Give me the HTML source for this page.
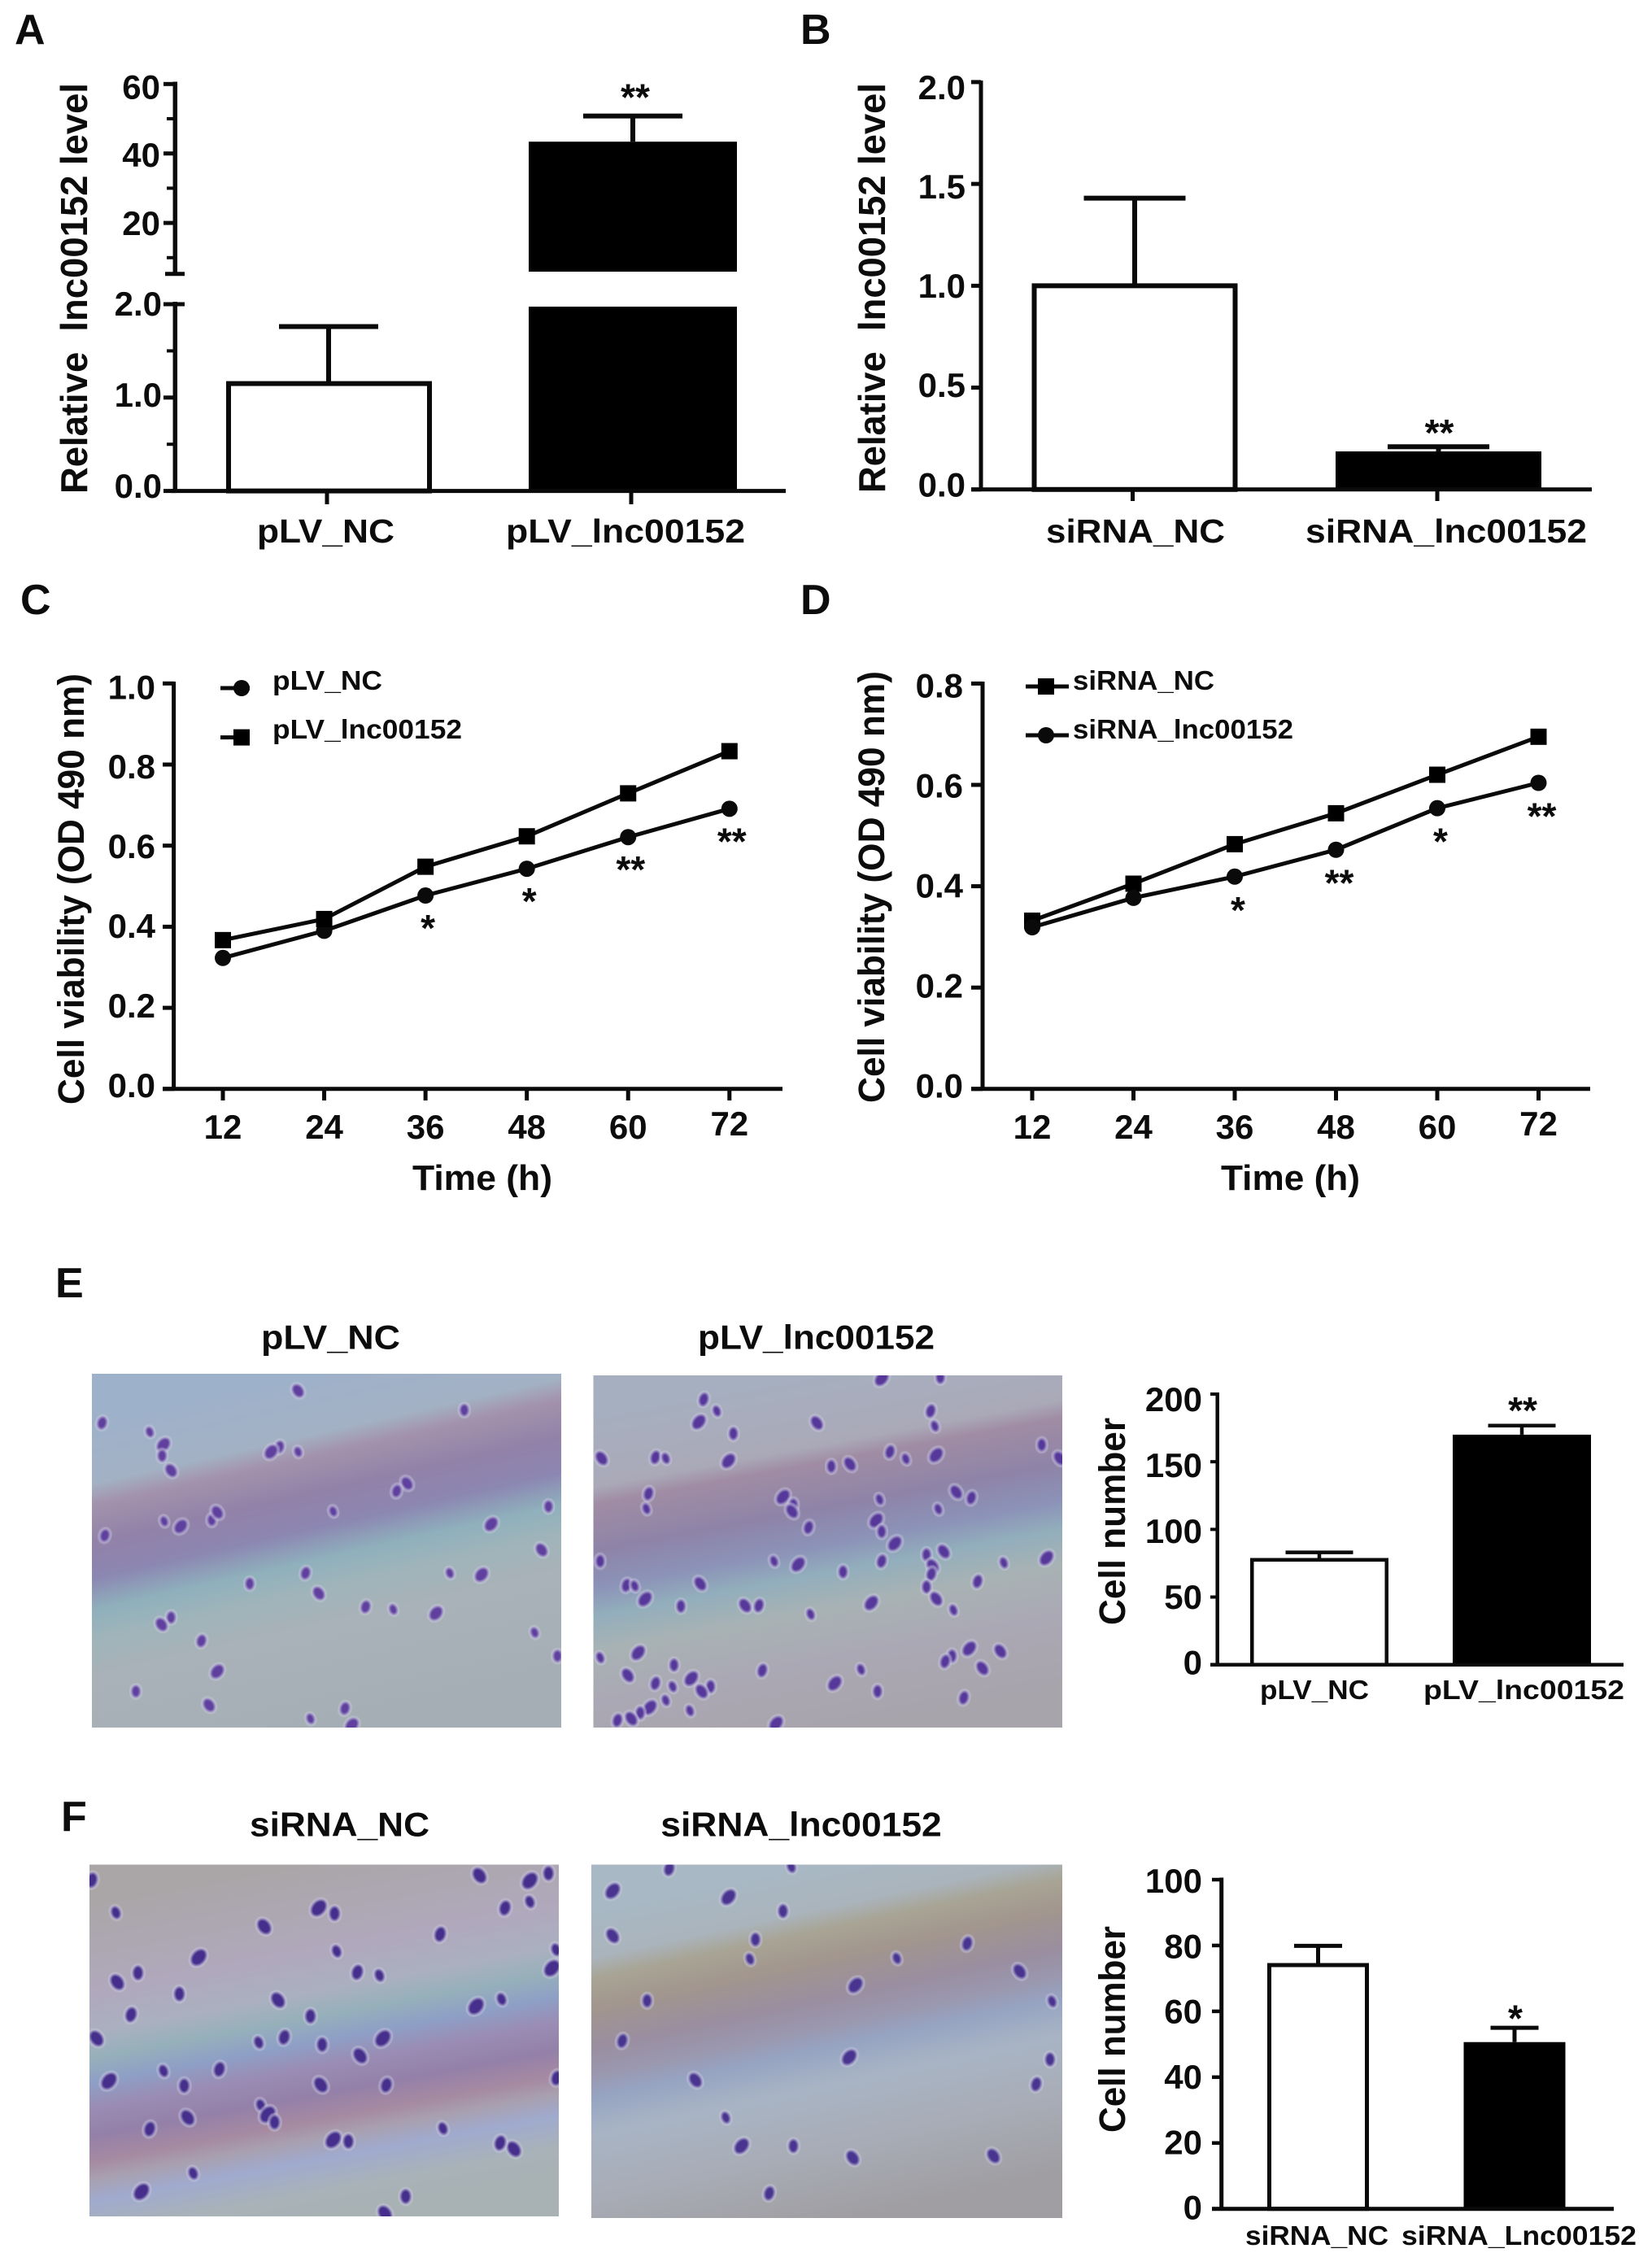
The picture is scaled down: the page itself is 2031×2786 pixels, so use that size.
<!DOCTYPE html>
<html lang="en">
<head>
<meta charset="utf-8">
<title>lnc00152 expression, viability and cell number panels</title>
<style>
html,body{margin:0;padding:0;background:#fff;}
svg{display:block;}
text{font-family:"Liberation Sans",Arial,sans-serif;font-weight:bold;fill:#0c0c0c;}
</style>
</head>
<body>
<svg id="figure" xmlns="http://www.w3.org/2000/svg" width="2031" height="2786" viewBox="0 0 2031 2786">
<defs>
<linearGradient id="grad-e1" x1="0" y1="0" x2="0" y2="1">
<stop offset=".167" stop-color="#9eb1ca"/><stop offset=".28" stop-color="#a3b1c4"/><stop offset=".32" stop-color="#a392ac"/><stop offset=".387" stop-color="#9282a8"/><stop offset=".453" stop-color="#8c86b2"/><stop offset=".513" stop-color="#8fb0bc"/><stop offset=".567" stop-color="#9fb4ba"/><stop offset=".633" stop-color="#a8b2b8"/><stop offset=".833" stop-color="#a4aeb4"/>
</linearGradient>
<linearGradient id="grad-e2" x1="0" y1="0" x2="0" y2="1">
<stop offset=".167" stop-color="#a6afbf"/><stop offset=".3" stop-color="#aaa9b8"/><stop offset=".333" stop-color="#a08ca4"/><stop offset=".42" stop-color="#8e84a8"/><stop offset=".487" stop-color="#8c92b8"/><stop offset=".54" stop-color="#92aebc"/><stop offset=".607" stop-color="#a8b2b4"/><stop offset=".7" stop-color="#aaa8b4"/><stop offset=".833" stop-color="#a8a4ac"/>
</linearGradient>
<linearGradient id="grad-f1" x1="0" y1="0" x2="0" y2="1">
<stop offset=".167" stop-color="#aaa6a8"/><stop offset=".333" stop-color="#b0a8bc"/><stop offset=".407" stop-color="#aab0c0"/><stop offset=".453" stop-color="#96b0ba"/><stop offset=".5" stop-color="#8e9fc6"/><stop offset=".547" stop-color="#9a8cb4"/><stop offset=".6" stop-color="#9480a8"/><stop offset=".647" stop-color="#a68aa2"/><stop offset=".68" stop-color="#a8a0b0"/><stop offset=".72" stop-color="#a0aace"/><stop offset=".78" stop-color="#a8b2b8"/><stop offset=".833" stop-color="#a8b2b4"/>
</linearGradient>
<linearGradient id="grad-f2" x1="0" y1="0" x2="0" y2="1">
<stop offset=".167" stop-color="#a8b8c4"/><stop offset=".253" stop-color="#aab4bc"/><stop offset=".293" stop-color="#a8a494"/><stop offset=".347" stop-color="#a2968e"/><stop offset=".42" stop-color="#9a8ea0"/><stop offset=".473" stop-color="#9a98b0"/><stop offset=".513" stop-color="#96a4c2"/><stop offset=".58" stop-color="#a8b4c4"/><stop offset=".7" stop-color="#a8acb6"/><stop offset=".833" stop-color="#a09ea2"/>
</linearGradient>
<clipPath id="clip-e1"><rect x="113" y="1689" width="577" height="435"/></clipPath>
<clipPath id="clip-e2"><rect x="729.5" y="1691" width="576.5" height="433"/></clipPath>
<clipPath id="clip-f1"><rect x="110" y="2292.5" width="577" height="432.5"/></clipPath>
<clipPath id="clip-f2"><rect x="727" y="2292.5" width="579" height="434.5"/></clipPath>
<filter id="soft" x="-15%" y="-15%" width="130%" height="130%"><feGaussianBlur stdDeviation="0.9"/></filter>
</defs>

<rect x="0" y="0" width="2031" height="2786" fill="#ffffff"/>

<g id="photo-e1" clip-path="url(#clip-e1)">
<rect x="-31" y="1580" width="866" height="653" fill="url(#grad-e1)" transform="rotate(-12.7 401.5 1906.5)"/>
</g>
<g id="photo-e2" clip-path="url(#clip-e2)">
<rect x="585" y="1582" width="866" height="650" fill="url(#grad-e2)" transform="rotate(-10.5 1018 1907)"/>
</g>
<g id="photo-f1" clip-path="url(#clip-f1)">
<rect x="-34" y="2184" width="866" height="649" fill="url(#grad-f1)" transform="rotate(-10.4 398.5 2508.7)"/>
</g>
<g id="photo-f2" clip-path="url(#clip-f2)">
<rect x="582" y="2184" width="869" height="652" fill="url(#grad-f2)" transform="rotate(-12 1016.5 2510)"/>
</g>

<g id="chart-layer"></g>
</svg>

<script>
// Cell spots in the photographs, given in crop-reference units (not chart data).
const cellsE1 = [[148,530],[217,558],[237,598],[235,632],[248,678],[405,605],[432,620],[393,620],[673,490],[590,718],[575,742],[238,836],[262,852],[307,832],[315,808],[152,880],[483,805],[712,845],[795,790],[785,925],[443,997],[652,997],[698,1002],[362,1030],[462,1060],[530,1102],[570,1110],[632,1122],[248,1135],[234,1157],[292,1208],[775,1182],[315,1303],[197,1365],[303,1408],[500,1418],[450,1450],[510,1470],[808,1255],[432,430]];
const cellsE2 = [[1020,457],[1039,493],[1013,527],[1063,563],[1184,530],[1349,493],[1355,540],[1278,392],[1363,388],[872,640],[950,637],[965,640],[1056,648],[1205,665],[1232,658],[1290,620],[1313,642],[1357,630],[1510,598],[1536,640],[940,750],[937,797],[1135,760],[1150,785],[1148,805],[1172,855],[1275,768],[1270,833],[1278,868],[1386,745],[1408,763],[1360,798],[1297,905],[1343,940],[1368,930],[1278,960],[1122,960],[1157,970],[1222,993],[1352,975],[1350,1000],[1455,965],[1517,950],[870,960],[1015,1030],[908,1035],[920,1037],[935,1078],[987,1100],[1080,1098],[1100,1098],[1175,1125],[1263,1090],[1343,1040],[1357,1077],[1417,1023],[1382,1112],[1405,1232],[1380,1255],[1450,1240],[1370,1272],[870,1260],[925,1245],[977,1283],[910,1315],[950,1340],[975,1350],[1002,1325],[1030,1350],[1017,1365],[1105,1300],[1248,1297],[1210,1340],[1272,1365],[1424,1293],[1397,1385],[965,1393],[942,1415],[928,1432],[915,1450],[895,1455],[1000,1425],[1125,1465]];
const cellsF1 = [[133,320],[168,425],[462,410],[485,428],[383,470],[732,410],[768,390],[768,322],[795,298],[695,305],[638,495],[488,550],[288,570],[200,620],[170,650],[518,618],[550,628],[800,605],[260,688],[403,708],[190,755],[727,705],[690,728],[450,760],[140,832],[412,828],[375,845],[555,832],[467,852],[522,888],[318,932],[237,937],[158,970],[267,985],[465,982],[560,983],[378,1048],[388,1078],[398,1103],[272,1088],[217,1125],[642,1123],[483,1160],[505,1165],[745,1190],[725,1170],[280,1268],[205,1328],[588,1343],[558,1398],[807,960],[806,545]];
const cellsF2 = [[970,283],[1147,277],[1056,375],[1135,420],[888,500],[1402,525],[1300,573],[1240,660],[938,710],[1478,615],[902,840],[1525,712],[1231,893],[1522,900],[1008,967],[1502,980],[1052,1088],[1075,1180],[1150,1180],[1236,1218],[1115,1333],[1087,575],[888,355],[1095,512],[1440,1212]];
const cellSizeCycle = [1, 0.85, 1.2, 0.95, 1.1];
const cellTiltCycle = [15, -20, 40, 0, -35];

function drawCells(groupId, cells, cropTop, scaleY, fill, rx, ry) {
  const group = document.getElementById(groupId);
  cells.forEach(function (c, i) {
    const el = document.createElementNS('http://www.w3.org/2000/svg', 'ellipse');
    
    
    const cx = c[0] / 1.179;
    const cy = cropTop + c[1] / scaleY;
    const k = cellSizeCycle[i % cellSizeCycle.length];
    el.setAttribute('cx', cx);
    el.setAttribute('cy', cy);
    el.setAttribute('rx', rx * k);
    el.setAttribute('ry', ry * k);
    el.setAttribute('fill', fill);
    el.setAttribute('stroke', '#d8d8ec');
    el.setAttribute('stroke-width', 4);
    el.setAttribute('stroke-opacity', 0.45);
    el.setAttribute('filter', 'url(#soft)');
    el.setAttribute('transform', 'rotate(' + cellTiltCycle[i % cellTiltCycle.length] + ' ' + cx + ' ' + cy + ')');
    group.appendChild(el);
  });
}
drawCells('photo-e1', cellsE1, 1540, 2.53, '#5f3f9e', 6.5, 8.5);
drawCells('photo-e2', cellsE2, 1540, 2.53, '#56389a', 6.5, 9);
drawCells('photo-f1', cellsF1, 2190, 2.631, '#452d8c', 7.5, 10);
drawCells('photo-f2', cellsF2, 2190, 2.631, '#4a3590', 7, 9.5);
</script>

<script>
// ---- Panel A ----
const panelACategories = ['pLV_NC', 'pLV_lnc00152'];
const panelAValues = [1.15, 43.4];
const panelAErrorTops = [1.76, 50.8];
const panelAUpperTicks = [60, 40, 20];
const panelAUpperMinor = [50, 30, 10];
const panelALowerTicks = ['0.0', '1.0', '2.0'];
const panelALowerMinor = [0.5, 1.5];
const panelASignificance = ['', '**'];

// ---- Panel B ----
const panelBCategories = ['siRNA_NC', 'siRNA_lnc00152'];
const panelBValues = [1.0, 0.187];
const panelBErrorTops = [1.43, 0.21];
const panelBTicks = ['0.0', '0.5', '1.0', '1.5', '2.0'];
const panelBSignificance = ['', '**'];

// ---- Panel C ----
const panelCTimes = [12, 24, 36, 48, 60, 72];
const panelCControl = [0.323, 0.39, 0.477, 0.543, 0.621, 0.691];
const panelCTreated = [0.367, 0.419, 0.548, 0.623, 0.729, 0.833];
const panelCTicks = ['0.0', '0.2', '0.4', '0.6', '0.8', '1.0'];
const panelCSignificance = ['', '', '*', '*', '**', '**'];
const panelCLegend = ['pLV_NC', 'pLV_lnc00152'];

// ---- Panel D ----
const panelDTimes = [12, 24, 36, 48, 60, 72];
const panelDControl = [0.332, 0.405, 0.483, 0.544, 0.62, 0.695];
const panelDTreated = [0.319, 0.377, 0.419, 0.472, 0.554, 0.604];
const panelDTicks = ['0.0', '0.2', '0.4', '0.6', '0.8'];
const panelDSignificance = ['', '', '*', '**', '*', '**'];
const panelDLegend = ['siRNA_NC', 'siRNA_lnc00152'];

// ---- Panel E ----
const panelECategories = ['pLV_NC', 'pLV_lnc00152'];
const panelEValues = [77.5, 170];
const panelEErrorTops = [83, 176.7];
const panelETicks = ['0', '50', '100', '150', '200'];
const panelESignificance = ['', '**'];

// ---- Panel F ----
const panelFCategories = ['siRNA_NC', 'siRNA_Lnc00152'];
const panelFValues = [74.05, 50.65];
const panelFErrorTops = [79.9, 55];
const panelFTicks = ['0', '20', '40', '60', '80', '100'];
const panelFSignificance = ['', '*'];

const NS = 'http://www.w3.org/2000/svg';
const layer = document.getElementById('chart-layer');

function drawLine(x1, y1, x2, y2, w, name) {
  const el = document.createElementNS(NS, 'line');
  
  
  el.setAttribute('x1', x1);
  el.setAttribute('y1', y1);
  el.setAttribute('x2', x2);
  el.setAttribute('y2', y2);
  el.setAttribute('stroke', '#0a0a0a');
  el.setAttribute('stroke-width', w);
  layer.appendChild(el);
}

function drawRect(x, y, w, h, fill, sw, name) {
  const el = document.createElementNS(NS, 'rect');
  
  
  el.setAttribute('x', x);
  el.setAttribute('y', y);
  el.setAttribute('width', w);
  el.setAttribute('height', h);
  el.setAttribute('fill', fill);
  if (sw) {
    el.setAttribute('stroke', '#0a0a0a');
    el.setAttribute('stroke-width', sw);
  }
  layer.appendChild(el);
}

function drawCircle(cx, cy, r, name) {
  const el = document.createElementNS(NS, 'circle');
  
  
  el.setAttribute('cx', cx);
  el.setAttribute('cy', cy);
  el.setAttribute('r', r);
  el.setAttribute('fill', '#0a0a0a');
  layer.appendChild(el);
}

function drawPolyline(points, w, name) {
  const el = document.createElementNS(NS, 'polyline');
  
  
  el.setAttribute('points', points.map(function (p) { return p[0] + ',' + p[1]; }).join(' '));
  el.setAttribute('fill', 'none');
  el.setAttribute('stroke', '#0a0a0a');
  el.setAttribute('stroke-width', w);
  layer.appendChild(el);
}

function drawText(str, x, y, size, anchor, name, length, rotated) {
  const el = document.createElementNS(NS, 'text');
  
  
  el.setAttribute('x', x);
  el.setAttribute('y', y);
  el.setAttribute('font-size', size);
  el.setAttribute('text-anchor', anchor);
  if (length) {
    el.setAttribute('textLength', length);
    el.setAttribute('lengthAdjust', 'spacingAndGlyphs');
  }
  if (rotated) {
    el.setAttribute('transform', 'rotate(-90 ' + x + ' ' + y + ')');
  }
  el.textContent = str;
  layer.appendChild(el);
}

function drawStars(str, cx, cy, name) {
  if (str) {
    drawText(str, cx, cy + 26, 46, 'middle', name);
  }
}

// Y ticks with label baselines that drift slightly as in the source artwork.
function drawYTicks(ticks, yScale, axisX, tickLeft, labelRight, size, offTop, offBottom, w, prefix) {
  const values = ticks.map(Number);
  const max = Math.max.apply(null, values);
  const min = Math.min.apply(null, values);
  ticks.forEach(function (t) {
    const y = yScale(Number(t));
    drawLine(tickLeft, y, axisX, y, w, prefix + '-y-tick');
    const frac = (Number(t) - min) / (max - min);
    drawText(String(t), labelRight, y + offBottom + (offTop - offBottom) * frac, size, 'end', prefix + '-y-tick-label');
  });
}

function drawBars(p) {
  p.values.forEach(function (v, i) {
    const cx = p.x(i);
    const base = p.y(0);
    const top = p.y(v);
    const capY = p.y(p.errors[i]);
    drawLine(cx, capY, cx, top, p.stem, p.prefix + '-error-stem');
    drawLine(cx - p.cap / 2, capY, cx + p.cap / 2, capY, p.capW, p.prefix + '-error-cap');
    if (i === 0) {
      const s = p.stroke;
      drawRect(cx - p.width / 2 + s / 2, top, p.width - s, base - top, '#ffffff', s, p.prefix + '-bar-control');
    } else {
      drawRect(cx - p.width / 2, top, p.width, base - top, '#000000', 0, p.prefix + '-bar-treated');
    }
    drawStars(p.stars[i], cx + 1, capY - p.starGap, p.prefix + '-significance');
  });
}

function drawLineSeries(times, values, xScale, yScale, marker, name) {
  const pts = values.map(function (v, i) { return [xScale(times[i]), yScale(v)]; });
  drawPolyline(pts, 5, name + '-line');
  pts.forEach(function (p) {
    if (marker === 'circle') {
      drawCircle(p[0], p[1], 10, name + '-point');
    } else {
      drawRect(p[0] - 10, p[1] - 10, 20, 20, '#000000', 0, name + '-point');
    }
  });
}

// Panel letters
drawText('A', 18, 54, 52, 'start', 'panel-label-a');
drawText('B', 984, 54, 52, 'start', 'panel-label-b');
drawText('C', 25, 755, 52, 'start', 'panel-label-c');
drawText('D', 984, 755, 52, 'start', 'panel-label-d');
drawText('E', 68, 1595, 52, 'start', 'panel-label-e');
drawText('F', 75, 2251, 52, 'start', 'panel-label-f');

// Panel A: broken axis
const yAUpper = function (v) { return 103.3 + (60 - v) * 4.27; };
const yALower = function (v) { return 603.6 - v * 114.8; };
const xA = function (i) { return 404 + 374 * i; };
drawLine(215.3, 100.5, 215.3, 339, 5.5, 'panel-a-y-axis-upper');
drawLine(215.3, 371, 215.3, 606, 5.5, 'panel-a-y-axis-lower');
drawLine(203, 336.7, 227, 336.7, 5, 'panel-a-axis-break-upper');
drawLine(203, 374, 227, 374, 5, 'panel-a-axis-break-lower');
drawYTicks(panelAUpperTicks, yAUpper, 216, 201, 197, 42, 18, 15, 5, 'panel-a-upper');
panelAUpperMinor.forEach(function (v) {
  drawLine(205, yAUpper(v), 216, yAUpper(v), 4, 'panel-a-upper-minor-tick');
});
drawYTicks(panelALowerTicks, yALower, 216, 201, 199, 42, 14, 8.5, 5, 'panel-a-lower');
panelALowerMinor.forEach(function (v) {
  drawLine(205, yALower(v), 216, yALower(v), 4, 'panel-a-lower-minor-tick');
});
(function () {
  const cx0 = xA(0);
  const topWhite = yALower(panelAValues[0]);
  const capWhite = yALower(panelAErrorTops[0]);
  drawLine(cx0, capWhite, cx0, topWhite, 6, 'panel-a-error-stem');
  drawLine(cx0 - 61, capWhite, cx0 + 61, capWhite, 6, 'panel-a-error-cap');
  drawRect(cx0 - 123, topWhite, 247, 603.6 - topWhite, '#ffffff', 6, 'panel-a-bar-control');
  const cx1 = xA(1);
  const topBlack = yAUpper(panelAValues[1]);
  const capBlack = yAUpper(panelAErrorTops[1]);
  drawLine(cx1, capBlack, cx1, topBlack, 6, 'panel-a-error-stem');
  drawLine(cx1 - 61, capBlack, cx1 + 61, capBlack, 6, 'panel-a-error-cap');
  drawRect(cx1 - 128, topBlack, 256, 334 - topBlack, '#000000', 0, 'panel-a-bar-treated-upper');
  drawRect(cx1 - 128, 377, 256, 226.6, '#000000', 0, 'panel-a-bar-treated-lower');
  drawStars(panelASignificance[1], cx1 + 3, capBlack - 33, 'panel-a-significance');
})();
drawLine(210, 603.6, 966, 603.6, 5, 'panel-a-x-axis');
panelACategories.forEach(function (c, i) {
  const tx = 402 + 374 * i;
  drawLine(tx, 603.6, tx, 620, 5, 'panel-a-x-tick');
});
drawText(panelACategories[0], 400.5, 667, 41, 'middle', 'panel-a-x-label', 169);
drawText(panelACategories[1], 769, 667, 41, 'middle', 'panel-a-x-label', 294);
drawText('Relative\u00a0 lnc00152 level', 107, 607, 46, 'start', 'panel-a-y-title', 505, true);

// Panel B
const yB = function (v) { return 601.8 - v * 250.45; };
const xB = function (i) { return 1395 + 373.5 * i; };
drawLine(1206, 99, 1206, 604, 5, 'panel-b-y-axis');
drawYTicks(panelBTicks, yB, 1206, 1194, 1187, 42, 21, 8.5, 5, 'panel-b');
drawBars({ prefix: 'panel-b', values: panelBValues, errors: panelBErrorTops, x: xB, y: yB, width: 253, cap: 125, stem: 6, capW: 6, stroke: 6, stars: panelBSignificance, starGap: 27 });
drawLine(1194, 601.8, 1957, 601.8, 5, 'panel-b-x-axis');
panelBCategories.forEach(function (c, i) {
  const tx = 1392.5 + 374.5 * i;
  drawLine(tx, 601.8, tx, 616, 5, 'panel-b-x-tick');
});
drawText(panelBCategories[0], 1396, 667, 41, 'middle', 'panel-b-x-label', 220);
drawText(panelBCategories[1], 1778, 667, 41, 'middle', 'panel-b-x-label', 346);
drawText('Relative\u00a0 lnc00152 level', 1088, 606, 46, 'start', 'panel-b-y-title', 504, true);

// Panel C
const yC = function (v) { return 1338.8 - v * 498.5; };
const xC = function (t) { return 274 + (t - 12) * 10.38; };
drawLine(213.6, 838, 213.6, 1341, 5, 'panel-c-y-axis');
drawYTicks(panelCTicks, yC, 214, 200, 191, 42, 19, 10, 5, 'panel-c');
drawLine(200, 1338.8, 962, 1338.8, 5, 'panel-c-x-axis');
panelCTimes.forEach(function (t, i) {
  drawLine(xC(t), 1338.8, xC(t), 1353, 5, 'panel-c-x-tick');
  drawText(String(t), xC(t), i === panelCTimes.length - 1 ? 1396 : 1400, 42, 'middle', 'panel-c-x-tick-label');
});
drawLineSeries(panelCTimes, panelCControl, xC, yC, 'circle', 'panel-c-series-control');
drawLineSeries(panelCTimes, panelCTreated, xC, yC, 'square', 'panel-c-series-treated');
panelCSignificance.forEach(function (s, i) {
  drawStars(s, xC(panelCTimes[i]) + 3, yC(panelCControl[i]) + 30, 'panel-c-significance');
});
drawLine(271, 846, 307, 846, 5, 'panel-c-legend-line-control');
drawCircle(297, 846, 10, 'panel-c-legend-marker-control');
drawText(panelCLegend[0], 335, 848, 33, 'start', 'panel-c-legend-label', 135);
drawLine(271, 906.6, 307, 906.6, 5, 'panel-c-legend-line-treated');
drawRect(287, 896.6, 20, 20, '#000000', 0, 'panel-c-legend-marker-treated');
drawText(panelCLegend[1], 335, 908, 33, 'start', 'panel-c-legend-label', 233);
drawText('Time (h)', 593, 1463, 44, 'middle', 'panel-c-x-title', 172);
drawText('Cell viability (OD 490 nm)', 103, 1358, 45, 'start', 'panel-c-y-title', 530, true);

// Panel D
const yD = function (v) { return 1338.8 - v * 623; };
const xD = function (t) { return 1269 + (t - 12) * 10.375; };
drawLine(1208, 838, 1208, 1341, 5, 'panel-d-y-axis');
drawYTicks(panelDTicks, yD, 1208, 1194, 1184, 42, 17, 10.5, 5, 'panel-d');
drawLine(1194, 1338.8, 1955, 1338.8, 5, 'panel-d-x-axis');
panelDTimes.forEach(function (t, i) {
  drawLine(xD(t), 1338.8, xD(t), 1353, 5, 'panel-d-x-tick');
  drawText(String(t), xD(t), i === panelDTimes.length - 1 ? 1396 : 1400, 42, 'middle', 'panel-d-x-tick-label');
});
drawLineSeries(panelDTimes, panelDControl, xD, yD, 'square', 'panel-d-series-control');
drawLineSeries(panelDTimes, panelDTreated, xD, yD, 'circle', 'panel-d-series-treated');
panelDSignificance.forEach(function (s, i) {
  drawStars(s, xD(panelDTimes[i]) + 4, yD(panelDTreated[i]) + 31, 'panel-d-significance');
});
drawLine(1261, 844, 1314, 844, 5, 'panel-d-legend-line-control');
drawRect(1276, 834, 20, 20, '#000000', 0, 'panel-d-legend-marker-control');
drawText(panelDLegend[0], 1319, 848, 33, 'start', 'panel-d-legend-label', 174);
drawLine(1261, 904, 1314, 904, 5, 'panel-d-legend-line-treated');
drawCircle(1286, 904, 10, 'panel-d-legend-marker-treated');
drawText(panelDLegend[1], 1319, 908, 33, 'start', 'panel-d-legend-label', 271);
drawText('Time (h)', 1586.5, 1463, 44, 'middle', 'panel-d-x-title', 171);
drawText('Cell viability (OD 490 nm)', 1087, 1356, 45, 'start', 'panel-d-y-title', 531, true);

// Micrograph titles
drawText('pLV_NC', 406.5, 1658.6, 42, 'middle', 'micrograph-title-plv-nc', 171);
drawText('pLV_lnc00152', 1003.5, 1658.6, 42, 'middle', 'micrograph-title-plv-lnc00152', 291);
drawText('siRNA_NC', 417.5, 2257.6, 42, 'middle', 'micrograph-title-sirna-nc', 221);
drawText('siRNA_lnc00152', 985, 2257.6, 42, 'middle', 'micrograph-title-sirna-lnc00152', 345.5);

// Panel E
const yE = function (v) { return 2046.7 - v * 1.6635; };
const xE = function (i) { return 1622 + 249 * i; };
drawLine(1496.7, 1712, 1496.7, 2049, 4.5, 'panel-e-y-axis');
drawYTicks(panelETicks, yE, 1497, 1488, 1478, 42, 21, 12, 4, 'panel-e');
drawBars({ prefix: 'panel-e', values: panelEValues, errors: panelEErrorTops, x: xE, y: yE, width: 170, cap: 83, stem: 4.5, capW: 4.5, stroke: 4.5, stars: panelESignificance, starGap: 29 });
drawLine(1488, 2046.7, 1996, 2046.7, 4.5, 'panel-e-x-axis');
drawText(panelECategories[0], 1616, 2089, 33, 'middle', 'panel-e-x-label', 134);
drawText(panelECategories[1], 1873.5, 2089, 33, 'middle', 'panel-e-x-label', 247);
drawText('Cell number', 1383, 1998, 45, 'start', 'panel-e-y-title', 255, true);

// Panel F
const yF = function (v) { return 2715.7 - v * 4.047; };
const xF = function (i) { return 1620.5 + 241.5 * i; };
drawLine(1501.7, 2308.5, 1501.7, 2718, 5, 'panel-f-y-axis');
drawYTicks(panelFTicks, yF, 1501, 1490, 1478, 42, 16, 13, 4.5, 'panel-f');
drawBars({ prefix: 'panel-f', values: panelFValues, errors: panelFErrorTops, x: xF, y: yF, width: 125, cap: 59, stem: 5, capW: 5, stroke: 5, stars: panelFSignificance, starGap: 21.5 });
drawLine(1490, 2715.7, 1984, 2715.7, 5, 'panel-f-x-axis');
drawText(panelFCategories[0], 1619, 2760, 33, 'middle', 'panel-f-x-label', 176);
drawText(panelFCategories[1], 1867.5, 2760, 33, 'middle', 'panel-f-x-label', 289);
drawText('Cell number', 1383, 2622, 45, 'start', 'panel-f-y-title', 254, true);
</script>
</body>
</html>
